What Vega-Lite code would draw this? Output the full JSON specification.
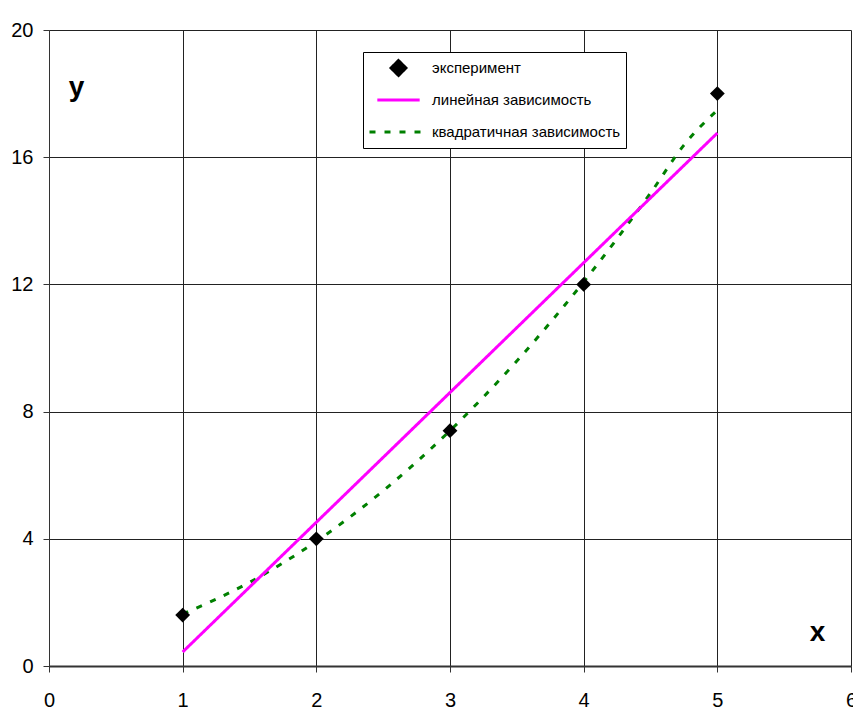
{
  "$schema": "https://vega.github.io/schema/vega-lite/v6.json",
  "width": 802,
  "height": 636,
  "autosize": {"type": "none"},
  "padding": {"left": 49, "top": 30, "right": 2, "bottom": 47},
  "background": "white",
  "config": {
    "view": {"stroke": null},
    "font": "Liberation Sans",
    "axis": {
      "grid": true,
      "gridColor": "#222",
      "gridWidth": 1,
      "gridOpacity": 1,
      "domainColor": "#333",
      "tickColor": "#333",
      "tickSize": 6,
      "labelFlush": false,
      "labelOverlap": false,
      "labelFont": "Liberation Sans",
      "labelFontSize": 20,
      "labelColor": "black",
      "titleFont": "Liberation Sans",
      "titleFontSize": 28,
      "titleFontWeight": "bold",
      "titleColor": "black"
    },
    "legend": {
      "orient": "none",
      "legendX": 314,
      "legendY": 22,
      "fillColor": "white",
      "strokeColor": "black",
      "padding": 5,
      "labelFont": "Liberation Sans",
      "labelFontSize": 15,
      "labelColor": "black",
      "labelOffset": 3,
      "labelLimit": 400,
      "symbolStrokeWidth": 3,
      "clipHeight": 22,
      "rowPadding": 10
    }
  },
  "datasets": {
    "exp": [
      {"x": 1, "y": 1.6, "series": "эксперимент"},
      {"x": 2, "y": 4.0, "series": "эксперимент"},
      {"x": 3, "y": 7.4, "series": "эксперимент"},
      {"x": 4, "y": 12.0, "series": "эксперимент"},
      {"x": 5, "y": 18.0, "series": "эксперимент"}
    ],
    "lin": [
      {"x": 1, "y": 0.44, "series": "линейная зависимость"},
      {"x": 5, "y": 16.76, "series": "линейная зависимость"}
    ],
    "quad": [
      {"x": 1.0, "y": 1.64, "series": "квадратичная зависимость"},
      {"x": 1.25, "y": 2.1, "series": "квадратичная зависимость"},
      {"x": 1.5, "y": 2.63, "series": "квадратичная зависимость"},
      {"x": 1.75, "y": 3.24, "series": "квадратичная зависимость"},
      {"x": 2.0, "y": 3.92, "series": "квадратичная зависимость"},
      {"x": 2.25, "y": 4.68, "series": "квадратичная зависимость"},
      {"x": 2.5, "y": 5.51, "series": "квадратичная зависимость"},
      {"x": 2.75, "y": 6.42, "series": "квадратичная зависимость"},
      {"x": 3.0, "y": 7.4, "series": "квадратичная зависимость"},
      {"x": 3.25, "y": 8.46, "series": "квадратичная зависимость"},
      {"x": 3.5, "y": 9.59, "series": "квадратичная зависимость"},
      {"x": 3.75, "y": 10.8, "series": "квадратичная зависимость"},
      {"x": 4.0, "y": 12.08, "series": "квадратичная зависимость"},
      {"x": 4.25, "y": 13.44, "series": "квадратичная зависимость"},
      {"x": 4.5, "y": 14.87, "series": "квадратичная зависимость"},
      {"x": 4.75, "y": 16.38, "series": "квадратичная зависимость"},
      {"x": 5.0, "y": 17.48, "series": "квадратичная зависимость"}
    ]
  },
  "encoding": {
    "x": {
      "field": "x", "type": "quantitative",
      "scale": {"domain": [0, 6], "nice": false, "zero": false},
      "axis": {
        "values": [0, 1, 2, 3, 4, 5, 6],
        "domainWidth": 2,
        "labelPadding": 18,
        "title": "x",
        "titleX": 768,
        "titleY": -26,
        "titleAlign": "center",
        "titleBaseline": "alphabetic"
      }
    },
    "y": {
      "field": "y", "type": "quantitative",
      "scale": {"domain": [0, 20], "nice": false, "zero": false},
      "axis": {
        "values": [0, 4, 8, 12, 16, 20],
        "domainWidth": 1,
        "labelPadding": 10,
        "title": "y",
        "titleAngle": 0,
        "titleX": 27,
        "titleY": 65,
        "titleAlign": "center",
        "titleBaseline": "alphabetic"
      }
    }
  },
  "layer": [
    {
      "data": {"name": "quad"},
      "mark": {"type": "line", "strokeWidth": 3, "interpolate": "monotone"},
      "encoding": {
        "color": {
          "field": "series", "type": "nominal",
          "scale": {"domain": ["эксперимент", "линейная зависимость", "квадратичная зависимость"], "range": ["black", "#FF00FF", "#008000"]},
          "legend": {"title": null}
        },
        "strokeDash": {
          "field": "series", "type": "nominal",
          "scale": {"domain": ["эксперимент", "линейная зависимость", "квадратичная зависимость"], "range": [[1, 0], [1, 0], [6, 9]]},
          "legend": {"title": null}
        }
      }
    },
    {
      "data": {"name": "lin"},
      "mark": {"type": "line", "strokeWidth": 3},
      "encoding": {
        "color": {"field": "series", "type": "nominal", "legend": {"title": null}},
        "strokeDash": {"field": "series", "type": "nominal", "legend": {"title": null}}
      }
    },
    {
      "data": {"name": "exp"},
      "mark": {"type": "point", "filled": true, "opacity": 1},
      "encoding": {
        "color": {"field": "series", "type": "nominal", "legend": {"title": null}},
        "shape": {
          "field": "series", "type": "nominal",
          "scale": {"domain": ["эксперимент", "линейная зависимость", "квадратичная зависимость"], "range": ["diamond", "stroke", "stroke"]},
          "legend": {"title": null}
        },
        "size": {
          "field": "series", "type": "nominal",
          "scale": {"domain": ["эксперимент", "линейная зависимость", "квадратичная зависимость"], "range": [220, 3364, 3364]},
          "legend": {"title": null}
        }
      }
    }
  ]
}
